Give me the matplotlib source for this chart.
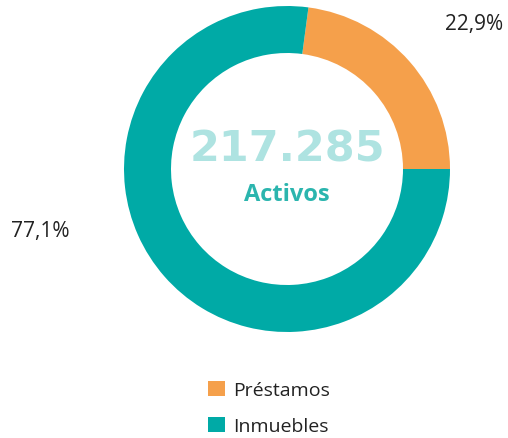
import matplotlib.pyplot as plt

categories = ['Préstamos', 'Inmuebles']
values = [22.9, 77.1]
pct_labels = ['22,9%', '77,1%']
colors = ['#F5A04B', '#00AAA6']
total_text = '217.285'
center_text = 'Activos'

plt.rcParams['font.family'] = ['Open Sans', 'DejaVu Sans']

fig = plt.figure(figsize=(5.08, 4.39), dpi=100)
ax = fig.add_axes([0, 0, 1, 1])
ax.set_xlim(0, 508)
ax.set_ylim(0, 439)
ax.set_aspect('equal')
ax.axis('off')

# donut, pixel coordinates (y up)
wedges, _ = ax.pie(values, colors=colors, startangle=0, counterclock=True,
                   center=(287, 269), radius=163,
                   wedgeprops=dict(width=47, edgecolor='none'))
ax.set_xlim(0, 508)
ax.set_ylim(0, 439)

ax.text(474, 415, pct_labels[0], fontsize=15, color='#222222', ha='center', va='center')
ax.text(40, 208, pct_labels[1], fontsize=15, color='#222222', ha='center', va='center')

ax.text(287, 289, total_text, fontsize=31, fontweight='bold', color='#AEE3E1',
        ha='center', va='center', family='DejaVu Sans')
ax.text(287, 244, center_text, fontsize=17, fontweight='bold', color='#2BB5AE',
        ha='center', va='center')

ax.legend(wedges, categories, loc='center', bbox_to_anchor=(0.53, 0.068),
          frameon=False, fontsize=14, handlelength=0.85, handleheight=0.85,
          handletextpad=0.45, labelspacing=0.9, labelcolor='#222222')

fig.savefig('out.png', dpi=100)
